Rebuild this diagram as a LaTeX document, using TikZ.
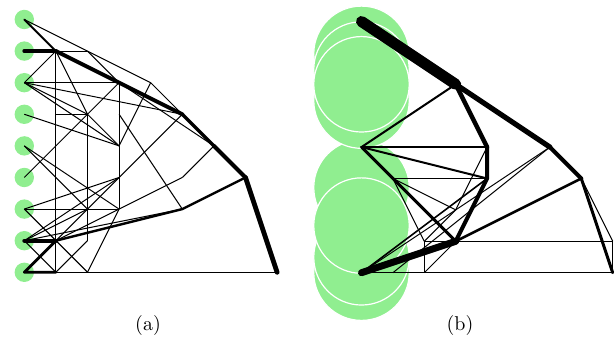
\documentclass[tikz,border=0pt]{standalone}
\usepackage{tikz}
\usetikzlibrary{positioning}
\definecolor{lgreen}{rgb}{0.565, 0.933, 0.565}
\tikzset{bar/.style = {line width=0.5pt}}
\tikzset{heavy/.style = {line width=#1, line cap=round, line join=round}}
\tikzset{circ/.style = {fill=lgreen, circle, inner sep=0, minimum size=9.7pt}}
\tikzset{bigcirc/.style = {fill=lgreen, draw=white, line width=0.6pt}}

\begin{document}
\begin{tikzpicture}
  \useasboundingbox (0,0) rectangle (307pt,175.5pt);
  % (a) ground structure
  \begin{scope}[shift={(12.15pt,39.35pt)}, x=15.8pt, y=15.8pt]
    \foreach \i in {0,...,8}
      \foreach \j in {0,...,8}
        \coordinate (a\i\j) at (\i,\j);
    \foreach \j in {0,...,8}
      \node[circ] (s\j) at (a0\j) {};
    \foreach \p/\q in {08/46, 46/55, 27/36, 17/27, 36/64, 46/34, 17/06, 17/25,
                       06/36, 15/25, 17/10, 25/21, 36/32, 06/25, 06/34, 06/55,
                       05/34, 04/22, 03/36, 02/33, 02/32, 02/11, 02/20, 10/21,
                       11/20, 01/10, 01/33, 01/22, 01/52, 11/33, 33/55, 11/53,
                       53/64, 32/20, 35/52, 25/34, 04/32, 10/80, 00/80}
      \draw[bar] (a\p) -- (a\q);
    \draw[heavy=1pt]   (a08) -- (a17);
    \draw[heavy=2pt]   (a07) -- (a17);
    \draw[heavy=2pt]   (a17) -- (a55);
    \draw[heavy=1.7pt] (a55) -- (a64);
    \draw[heavy=2pt]   (a64) -- (a73);
    \draw[heavy=2.4pt] (a73) -- (a80);
    \draw[heavy=2pt]   (a01) -- (a11);
    \draw[heavy=1.2pt] (a11) -- (a52) -- (a73);
    \draw[heavy=1.4pt] (a10) -- (a00) -- (a11);
  \end{scope}
  % (b) optimised layout
  \begin{scope}[shift={(180.75pt,39.15pt)}, x=15.7pt, y=15.7pt]
    \foreach \i in {0,...,8}
      \foreach \j in {0,...,8}
        \coordinate (b\i\j) at (\i,\j);
    \foreach \y in {2.71, 0, 6.97, 5.48, 6.47, 6, 0.49, 1.5}
      \draw[bigcirc] (0,\y) circle (1.52);
    \foreach \p/\q in {00/80, 31/81, 81/80, 73/81, 21/20, 21/31, 20/31, 13/43,
                       13/21, 13/32, 32/44, 32/21, 00/64, 10/64}
      \draw[bar] (b\p) -- (b\q);
    \draw[heavy=0.8pt] (b00) -- (b43);
    \draw[heavy=1pt]   (b04) -- (b36);
    \draw[heavy=1pt]   (b04) -- (b44);
    \draw[heavy=1pt]   (b04) -- (b43);
    \draw[heavy=1.5pt] (b04) -- (b31);
    \draw[heavy=1.3pt] (b31) -- (b73);
    \draw[heavy=3.5pt] (b00) -- (b31);
    \draw[heavy=2.2pt] (b36) -- (b44);
    \draw[heavy=2pt]   (b44) -- (b43) -- (b31);
    \draw[heavy=1.5pt] (b73) -- (b80);
    \draw[heavy=2pt]   (b64) -- (b73);
    \draw[heavy=2.6pt] (b36) -- (b64);
    \draw[heavy=5.5pt] (b08) -- (b36);
  \end{scope}
  \node (la) at (74pt,12.5pt) {(a)};
  \node (lb) at (230pt,12.5pt) {(b)};
\end{tikzpicture}
\end{document}
